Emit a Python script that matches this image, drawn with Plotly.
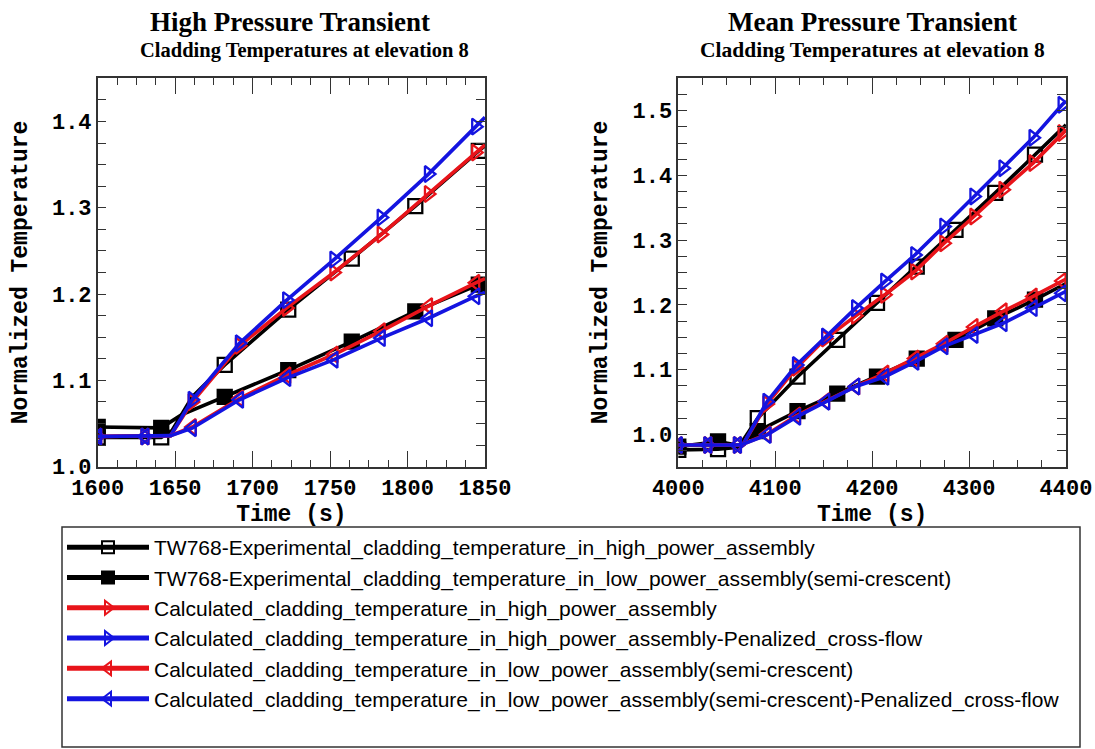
import plotly.graph_objects as go

# ---------------- data: High Pressure Transient (left) ----------------
HP_EXP_HI_T = [1600, 1641, 1648, 1661, 1682, 1723, 1764, 1805, 1846, 1850]
HP_EXP_HI_V = [1.034, 1.034, 1.042, 1.081, 1.118, 1.182, 1.241, 1.302, 1.366, 1.372]
HP_EXP_LO_T = [1600, 1641, 1654, 1682, 1723, 1764, 1805, 1846, 1850]
HP_EXP_LO_V = [1.046, 1.045, 1.060, 1.081, 1.112, 1.145, 1.180, 1.211, 1.214]
HP_CALC_T = [1600, 1630.5, 1647, 1661, 1691.5, 1722, 1752.5, 1783, 1813.5, 1844, 1850]
HP_RED_HI_V = [1.035, 1.035, 1.036, 1.075, 1.140, 1.184, 1.225, 1.269, 1.316, 1.364, 1.373]
HP_BLUE_HI_V = [1.035, 1.035, 1.036, 1.0775, 1.143, 1.193, 1.240, 1.2886, 1.339, 1.394, 1.405]
HP_RED_LO_V = [1.035, 1.035, 1.036, 1.046, 1.079, 1.106, 1.130, 1.157, 1.186, 1.213, 1.218]
HP_BLUE_LO_V = [1.035, 1.035, 1.036, 1.0446, 1.0775, 1.1027, 1.124, 1.149, 1.172, 1.1975, 1.202]
HP_EXP_MARK_T = [1600, 1641, 1682, 1723, 1764, 1805, 1846]
HP_CALC_MARK_T = [1600, 1630.5, 1661, 1691.5, 1722, 1752.5, 1783, 1813.5, 1844]

# ---------------- data: Mean Pressure Transient (right) ----------------
MP_EXP_T = [4000, 4041, 4062, 4082, 4123, 4164, 4205, 4246, 4286, 4327, 4368, 4400]
MP_EXP_HI_V = [0.976, 0.977, 0.980, 1.025, 1.089, 1.146, 1.203, 1.259, 1.316, 1.373, 1.432, 1.478]
MP_EXP_LO_V = [0.981, 0.989, 0.983, 1.005, 1.036, 1.063, 1.089, 1.117, 1.146, 1.179, 1.208, 1.233]
MP_CALC_T = [4000, 4030.5, 4061, 4067, 4091.5, 4122, 4152, 4183, 4213, 4244, 4274, 4305, 4335, 4366, 4396, 4400]
MP_RED_HI_V = [0.9835, 0.9835, 0.9835, 0.985, 1.047, 1.103, 1.148, 1.183, 1.2155, 1.2515, 1.295, 1.3365, 1.378, 1.419, 1.4655, 1.470]
MP_BLUE_HI_V = [0.9835, 0.9835, 0.9835, 0.985, 1.0505, 1.107, 1.151, 1.195, 1.236, 1.277, 1.321, 1.3675, 1.411, 1.458, 1.509, 1.515]
MP_RED_LO_V = [0.9835, 0.9835, 0.9835, 0.985, 1.000, 1.029, 1.051, 1.074, 1.094, 1.117, 1.140, 1.166, 1.190, 1.213, 1.237, 1.240]
MP_BLUE_LO_V = [0.9835, 0.9835, 0.9835, 0.985, 0.999, 1.027, 1.0505, 1.074, 1.089, 1.112, 1.136, 1.1536, 1.1716, 1.195, 1.218, 1.221]
MP_EXP_MARK_T = [4000, 4041, 4082, 4123, 4164, 4205, 4246, 4286, 4327, 4368]
MP_CALC_MARK_T = [4000, 4030.5, 4061, 4091.5, 4122, 4152, 4183, 4213, 4244, 4274, 4305, 4335, 4366, 4396]

SERIES_NAMES = [
    "TW768-Experimental_cladding_temperature_in_high_power_assembly",
    "TW768-Experimental_cladding_temperature_in_low_power_assembly(semi-crescent)",
    "Calculated_cladding_temperature_in_high_power_assembly",
    "Calculated_cladding_temperature_in_high_power_assembly-Penalized_cross-flow",
    "Calculated_cladding_temperature_in_low_power_assembly(semi-crescent)",
    "Calculated_cladding_temperature_in_low_power_assembly(semi-crescent)-Penalized_cross-flow",
]
PANEL_TITLES = ["High Pressure Transient", "Mean Pressure Transient"]
PANEL_SUBTITLE = "Cladding Temperatures at elevation 8"

# ---------------- styles ----------------
STYLES = [
    dict(color="black", symbol="square-open"),
    dict(color="black", symbol="square"),
    dict(color="#e8141a", symbol="triangle-right-open"),
    dict(color="#1414e0", symbol="triangle-right-open"),
    dict(color="#e8141a", symbol="triangle-left-open"),
    dict(color="#1414e0", symbol="triangle-left-open"),
]
MS = 14
LW = 3.6

panels = [
    dict(xa="x", ya="y", series=[
        (HP_EXP_HI_T, HP_EXP_HI_V, HP_EXP_MARK_T),
        (HP_EXP_LO_T, HP_EXP_LO_V, HP_EXP_MARK_T),
        (HP_CALC_T, HP_RED_HI_V, HP_CALC_MARK_T),
        (HP_CALC_T, HP_BLUE_HI_V, HP_CALC_MARK_T),
        (HP_CALC_T, HP_RED_LO_V, HP_CALC_MARK_T),
        (HP_CALC_T, HP_BLUE_LO_V, HP_CALC_MARK_T),
    ]),
    dict(xa="x2", ya="y2", series=[
        (MP_EXP_T, MP_EXP_HI_V, MP_EXP_MARK_T),
        (MP_EXP_T, MP_EXP_LO_V, MP_EXP_MARK_T),
        (MP_CALC_T, MP_RED_HI_V, MP_CALC_MARK_T),
        (MP_CALC_T, MP_BLUE_HI_V, MP_CALC_MARK_T),
        (MP_CALC_T, MP_RED_LO_V, MP_CALC_MARK_T),
        (MP_CALC_T, MP_BLUE_LO_V, MP_CALC_MARK_T),
    ]),
]

fig = go.Figure()
for pi, p in enumerate(panels):
    for si, (t, v, marks) in enumerate(p["series"]):
        st = STYLES[si]
        shown = [any(abs(tt - m) < 1e-6 for m in marks) for tt in t]
        fig.add_trace(go.Scatter(
            x=t, y=v, mode="lines+markers",
            name=SERIES_NAMES[si],
            legendgroup=str(si),
            showlegend=(pi == 0),
            line=dict(color=st["color"], width=LW),
            marker=dict(
                symbol=st["symbol"], color=st["color"], opacity=1,
                size=[MS if s else 0 for s in shown],
                line=dict(color=st["color"], width=[2.3 if s else 0 for s in shown]),
            ),
            xaxis=p["xa"], yaxis=p["ya"],
        ))

W, H = 1095, 749
def px_x(x):
    return x / W
def px_y(y):
    return 1 - y / H

TICKFONT = dict(family="Liberation Mono", size=22, color="black", weight="bold")
TITLEFONT = dict(family="Liberation Mono", size=23, color="black", weight="bold")
FRAME = "#333333"

def xaxis(rng, dtick, mdtick, domain, anchor):
    return dict(
        range=rng, domain=domain, anchor=anchor, dtick=dtick, tick0=rng[0],
        showline=True, linecolor=FRAME, linewidth=1.5, mirror="allticks",
        ticks="inside", ticklen=16, tickwidth=1.3, tickcolor=FRAME,
        minor=dict(ticks="inside", dtick=mdtick, ticklen=7, tickwidth=1.3, tickcolor=FRAME),
        showgrid=False, zeroline=False, tickfont=TICKFONT, automargin=False,
        title=dict(text="Time (s)", font=TITLEFONT, standoff=3),
    )

def yaxis(rng, domain, anchor):
    return dict(
        range=rng, domain=domain, anchor=anchor, dtick=0.1, tick0=1.0, tickformat=".1f",
        showline=True, linecolor=FRAME, linewidth=1.5, mirror="allticks",
        ticks="inside", ticklen=9, tickwidth=1.3, tickcolor=FRAME,
        minor=dict(ticks="inside", dtick=0.025, ticklen=9, tickwidth=1.3, tickcolor=FRAME),
        showgrid=False, zeroline=False, tickfont=TICKFONT, automargin=False,
        title=dict(text="Normalized Temperature", font=TITLEFONT, standoff=18),
    )

ydom = [px_y(466.7), px_y(78.3)]
fig.update_layout(
    width=W, height=H,
    margin=dict(l=0, r=0, t=0, b=0, autoexpand=False),
    paper_bgcolor="white", plot_bgcolor="white",
    xaxis=xaxis([1600, 1850], 50, 12.5, [px_x(97.7), px_x(485)], "y"),
    yaxis=yaxis([1.0, 1.45], ydom, "x"),
    xaxis2=xaxis([4000, 4400], 100, 25, [px_x(678.3), px_x(1066)], "y2"),
    yaxis2=yaxis([0.95, 1.55], ydom, "x2"),
    showlegend=True,
    legend=dict(
        x=px_x(62), y=px_y(527), xanchor="left", yanchor="top",
        borderwidth=0, bgcolor="rgba(0,0,0,0)",
        font=dict(family="Liberation Sans", size=21, color="black"),
        itemsizing="constant", itemwidth=82, tracegroupgap=0,
    ),
    shapes=[dict(
        type="rect", xref="paper", yref="paper",
        x0=px_x(62), x1=px_x(1080), y0=px_y(747), y1=px_y(527),
        line=dict(color=FRAME, width=1.5), fillcolor="rgba(0,0,0,0)", layer="below",
    )],
)

annotations = []
for cx, scx, title, ssize in [(290, 304, PANEL_TITLES[0], 20.5), (872, 873, PANEL_TITLES[1], 21.5)]:
    annotations.append(dict(
        x=px_x(cx), y=px_y(22), xref="paper", yref="paper", text="<b>%s</b>" % title,
        showarrow=False, xanchor="center", yanchor="middle",
        font=dict(family="Liberation Serif", size=27, color="black"),
    ))
    annotations.append(dict(
        x=px_x(scx), y=px_y(50), xref="paper", yref="paper", text="<b>%s</b>" % PANEL_SUBTITLE,
        showarrow=False, xanchor="center", yanchor="middle",
        font=dict(family="Liberation Serif", size=ssize, color="black"),
    ))
fig.update_layout(annotations=annotations)

fig.write_html("out.html")
